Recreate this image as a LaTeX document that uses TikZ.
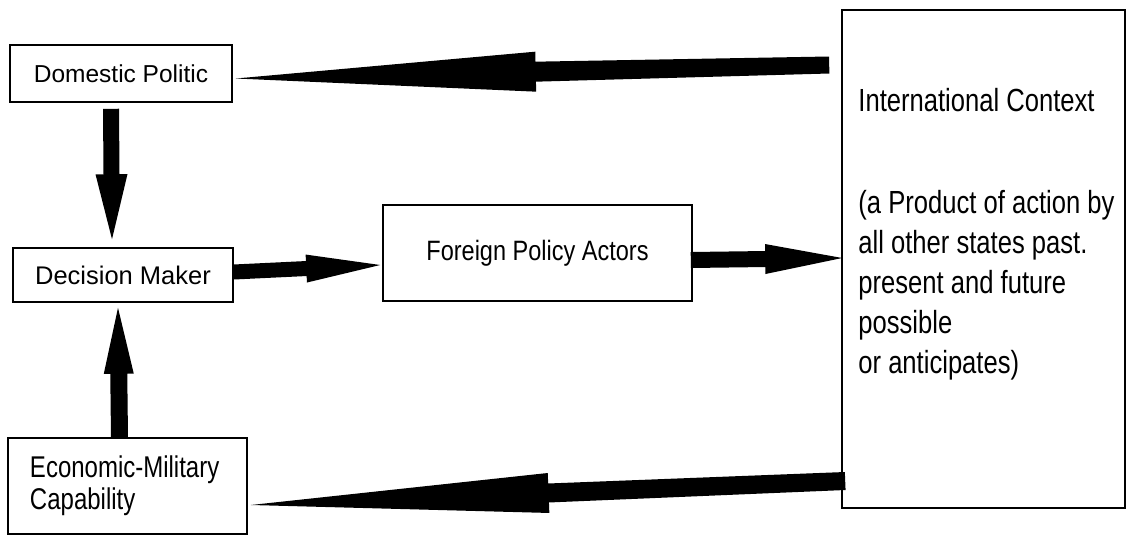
\documentclass[tikz,border=0pt]{standalone}
\usepackage{fontspec}
\setmainfont{Liberation Sans}
\newfontfamily\narrowfont{Liberation Sans}[FakeStretch=0.8]
\newfontfamily\midfont{Liberation Sans}[FakeStretch=0.84]
\usetikzlibrary{calc}
% block arrow: #1 start, #2 tip, #3 half shaft width at start, #4 half shaft width at head, #5 head length, #6 half head width
\newcommand\blkarrow[6]{%
  \coordinate (ba-s) at (#1);
  \coordinate (ba-e) at (#2);
  \coordinate (ba-h) at ($(ba-e)!#5!(ba-s)$);
  \fill[black] ($(ba-s)!#3!90:(ba-e)$) -- ($(ba-h)!#4!-90:(ba-s)$) -- ($(ba-h)!#6!-90:(ba-s)$)
    -- (ba-e) -- ($(ba-h)!#6!90:(ba-s)$) -- ($(ba-h)!#4!90:(ba-s)$) -- ($(ba-s)!#3!-90:(ba-e)$) -- cycle;}
\begin{document}
\begin{tikzpicture}[x=1pt,y=-1pt,
  box/.style={draw,line width=1.6pt,inner sep=0pt},
  lbl/.style={font=\fontsize{24.5}{30}\selectfont},
  nlbl/.style={font=\narrowfont\fontsize{32}{40}\selectfont},
]
\useasboundingbox[fill=white] (0,0) rectangle (1128,536);
% boxes
\node[box,lbl,minimum width=222pt,minimum height=57pt] (dom) at (121,73.5) {Domestic Politic};
\node[box,font=\fontsize{25.5}{30}\selectfont,minimum width=220pt,minimum height=54pt] (dec) at (123,275) {Decision Maker};
\node[box,font=\midfont\fontsize{28}{30}\selectfont,minimum width=309pt,minimum height=96pt] (fpa) at (537.5,253) {Foreign Policy Actors};
\node[box,font=\narrowfont\fontsize{30}{32}\selectfont,minimum width=239pt,minimum height=96pt,text width=195pt,align=left] (eco) at (127.5,486) {Economic-Military\\ Capability};
\node[box,minimum width=283pt,minimum height=498pt] (ic) at (983.5,259) {};
\node[nlbl,inner sep=0pt,anchor=north west,align=left] (ictext) at ($(ic.north west)+(17,79)$)
  {International Context\\[62pt](a Product of action by\\all other states past.\\present and future\\possible\\or anticipates)};
% block arrows
\blkarrow{$(ic.west)+(-12,-194)$}{$(dom.east)+(3,5)$}{8.5pt}{10pt}{300pt}{20pt}
\blkarrow{$(ic.west)+(4,222)$}{$(eco.east)+(3,19)$}{9pt}{9.5pt}{298pt}{20pt}
\blkarrow{$(dec.east)+(0,-3)$}{$(fpa.west)+(-2,12)$}{7.5pt}{7.5pt}{74pt}{14pt}
\blkarrow{$(fpa.east)+(-2,7)$}{$(ic.west)+(1,-1)$}{8pt}{8pt}{77pt}{15pt}
\blkarrow{$(dom.south)+(-10,6)$}{$(dec.north)+(-11,-8)$}{8pt}{8pt}{65pt}{16pt}
\blkarrow{$(eco.north)+(-8,0)$}{$(dec.south)+(-5,5)$}{8.5pt}{8.5pt}{66pt}{15pt}
\end{tikzpicture}
\end{document}
